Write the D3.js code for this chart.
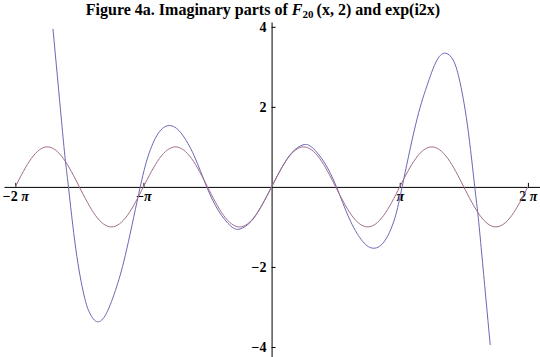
<!DOCTYPE html>
<html>
<head>
<meta charset="utf-8">
<script src="https://cdn.jsdelivr.net/npm/d3@7"></script>
<style>
  html, body { margin: 0; padding: 0; background: #fff; }
  svg { display: block; }
</style>
</head>
<body>
<svg id="chart" width="540" height="357"></svg>
<script>
// sin(2x) samples, read at every pi/8
const expX = [-6.283, -5.890, -5.498, -5.105, -4.712, -4.320, -3.927, -3.534, -3.142, -2.749, -2.356, -1.963, -1.571, -1.178, -0.785, -0.393, 0,
              0.393, 0.785, 1.178, 1.571, 1.963, 2.356, 2.749, 3.142, 3.534, 3.927, 4.320, 4.712, 5.105, 5.498, 5.890, 6.283];
const expY = [0, 0.71, 1, 0.71, 0, -0.71, -1, -0.71, 0, 0.71, 1, 0.71, 0, -0.71, -1, -0.71, 0,
              0.71, 1, 0.71, 0, -0.71, -1, -0.71, 0, 0.71, 1, 0.71, 0, -0.71, -1, -0.71, 0];

// F20(x, 2) imaginary part
const fX = [-5.36, -5.25, -5.15, -5.06, -4.98, -4.8, -4.6, -4.45, -4.27, -4.05, -3.8, -3.55, -3.22, -3.0, -2.75, -2.47, -2.2, -1.9, -1.59, -1.3, -1.0, -0.77, -0.5, -0.25, 0,
            0.25, 0.5, 0.77, 1.0, 1.3, 1.59, 1.9, 2.2, 2.47, 2.75, 3.0, 3.2, 3.53, 3.8, 4.05, 4.27, 4.45, 4.6, 4.8, 4.98, 5.06, 5.15, 5.25, 5.36];
const fY = [3.95, 2.75, 1.65, 0.7, 0, -1.55, -2.7, -3.17, -3.37, -3.16, -2.5, -1.55, 0, 0.85, 1.38, 1.53, 1.32, 0.78, 0, -0.6, -0.98, -1.05, -0.86, -0.48, 0,
            0.48, 0.86, 1.05, 0.98, 0.6, 0, -0.78, -1.32, -1.53, -1.38, -0.85, 0, 1.55, 2.5, 3.16, 3.34, 3.17, 2.7, 1.55, 0, -0.7, -1.65, -2.75, -3.95];

const xTicks = [-2 * Math.PI, -Math.PI, Math.PI, 2 * Math.PI];
const xTickLabels = ["\u22122 ", "\u2212", "", "2 "];
const yTicks = [-4, -2, 2, 4];
const yTickLabels = ["\u22124", "\u22122", "2", "4"];

const svg = d3.select("#chart");
const serif = "'Times New Roman', 'Liberation Serif', serif";

const x = d3.scaleLinear().domain([-6.56, 6.58]).range([4, 540]);
const y = d3.scaleLinear().domain([-4.25, 4.12]).range([357, 22]);

// Titel
const title = svg.append("text")
    .attr("x", 263)
    .attr("y", 15)
    .attr("text-anchor", "middle")
    .style("font-family", serif)
    .style("font-weight", "bold")
    .style("font-size", "16px");
title.append("tspan").text("Figure 4a. Imaginary parts of ");
title.append("tspan").style("font-style", "italic").text("F");
title.append("tspan").attr("dy", 3).style("font-size", "11px").text("20");
title.append("tspan").attr("dy", -3).text("\u2009(x, 2) and exp(i2x)");

// Achsen
const xAxis = svg.append("g")
    .attr("transform", `translate(0,${y(0)})`)
    .call(d3.axisBottom(x)
        .tickValues(xTicks)
        .tickSizeInner(-4)
        .tickSizeOuter(0)
        .tickPadding(4)
        .tickFormat((d, i) => xTickLabels[i]));

xAxis.selectAll("text").each(function () {
    const t = d3.select(this);
    const pre = t.text();
    t.text(null);
    t.append("tspan").text(pre);
    t.append("tspan").style("font-style", "italic").text("\u03c0");
});

svg.append("g")
    .attr("transform", `translate(${x(0)},0)`)
    .call(d3.axisLeft(y)
        .tickValues(yTicks)
        .tickSizeInner(-4)
        .tickSizeOuter(0)
        .tickPadding(5)
        .tickFormat((d, i) => yTickLabels[i]));

svg.selectAll(".tick text")
    .style("font-family", serif)
    .style("font-weight", "bold")
    .style("font-size", "14px")
    .attr("fill", "#000");
svg.selectAll(".domain, .tick line").attr("stroke", "#000").attr("stroke-width", 1);

// Kurven
const fLine = d3.line()
    .x(i => x(fX[i]))
    .y(i => y(fY[i]))
    .curve(d3.curveNatural);

const expLine = d3.line()
    .x(i => x(expX[i]))
    .y(i => y(expY[i]))
    .curve(d3.curveNatural);

svg.append("path")
    .attr("d", fLine(d3.range(fX.length)))
    .attr("fill", "none")
    .attr("stroke", "#6b68b5")
    .attr("stroke-width", 1);

svg.append("path")
    .attr("d", expLine(d3.range(expX.length)))
    .attr("fill", "none")
    .attr("stroke", "#a46a8e")
    .attr("stroke-width", 1);
</script>
</body>
</html>
